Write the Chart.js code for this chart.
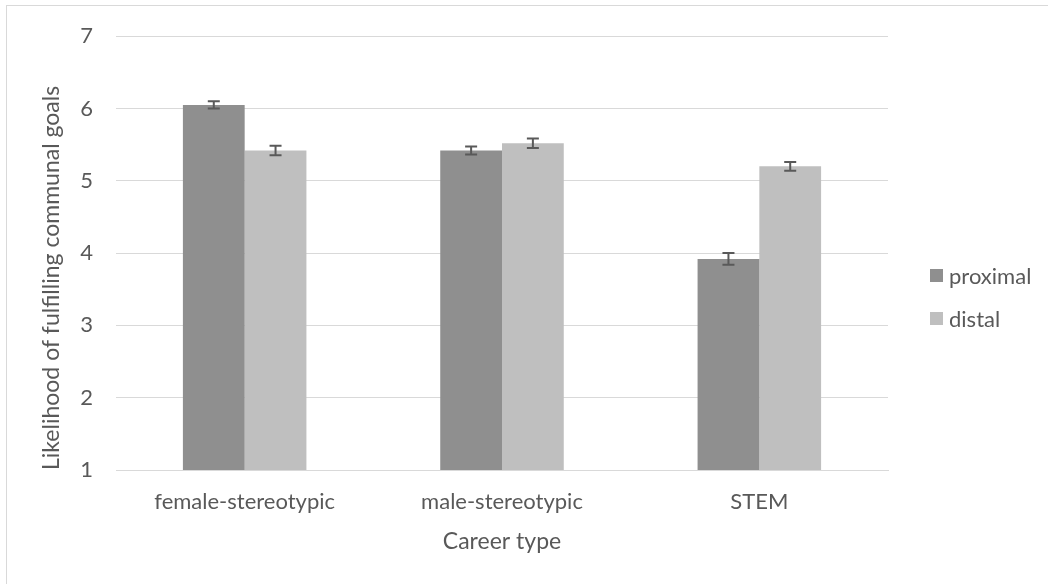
<!DOCTYPE html>
<html>
<head>
<meta charset="utf-8">
<script src="https://cdn.jsdelivr.net/npm/chart.js@4"></script>
<style>
  html, body { margin: 0; padding: 0; background: #ffffff; overflow: hidden; }
  #wrap { position: relative; width: 1048px; height: 584px; }
  #frame { position: absolute; left: 6px; top: 5px; width: 1100px; height: 700px;
           border: 1px solid #d9d9d9; box-sizing: border-box; pointer-events: none; }
  #legend { position: absolute; left: 930px; top: 262px; font-family: Lato, sans-serif;
            font-size: 22px; color: #595959; }
  .item { display: flex; align-items: center; height: 26px; margin-bottom: 17px; white-space: nowrap; }
  .swatch { width: 13px; height: 13px; margin-right: 6px; flex: none; }
</style>
</head>
<body>
<div id="wrap">
  <canvas id="c" width="1048" height="584"></canvas>
  <div id="frame"></div>
  <div id="legend"></div>
</div>
<script>
// Career types and the two goal conditions
const categories = ["female-stereotypic", "male-stereotypic", "STEM"];
const seriesNames = ["proximal", "distal"];
const proximalMeans = [6.05, 5.42, 3.92];
const distalMeans = [5.42, 5.52, 5.20];
const proximalErrors = [0.05, 0.055, 0.08];
const distalErrors = [0.065, 0.065, 0.06];
const yTicks = [1, 2, 3, 4, 5, 6, 7];

const textColor = "#595959";
const gridColor = "#d9d9d9";
const fontFamily = "Lato, sans-serif";

// Draws standard-error whiskers on each bar using the bar scales
const errorBars = {
  id: "errorBars",
  afterDatasetsDraw(chart) {
    const ctx = chart.ctx;
    const y = chart.scales.y;
    ctx.save();
    ctx.strokeStyle = "#595959";
    ctx.lineWidth = 2;
    chart.data.datasets.forEach((ds, di) => {
      const meta = chart.getDatasetMeta(di);
      meta.data.forEach((bar, i) => {
        const v = ds.data[i];
        const e = ds.errors[i];
        const yTop = y.getPixelForValue(v + e);
        const yBot = y.getPixelForValue(v - e);
        const x = bar.x;
        const cap = 6;
        ctx.beginPath();
        ctx.moveTo(x, yTop); ctx.lineTo(x, yBot);
        ctx.moveTo(x - cap, yTop); ctx.lineTo(x + cap, yTop);
        ctx.moveTo(x - cap, yBot); ctx.lineTo(x + cap, yBot);
        ctx.stroke();
      });
    });
    ctx.restore();
  }
};

const chart = new Chart(document.getElementById("c"), {
  type: "bar",
  data: {
    labels: categories,
    datasets: [
      { label: seriesNames[0], data: proximalMeans, errors: proximalErrors, backgroundColor: "#8f8f8f" },
      { label: seriesNames[1], data: distalMeans, errors: distalErrors, backgroundColor: "#bfbfbf" }
    ]
  },
  options: {
    responsive: false,
    animation: false,
    layout: { padding: { left: 0, right: 160, top: 33, bottom: 0 } },
    datasets: { bar: { categoryPercentage: 0.48, barPercentage: 1.0 } },
    plugins: { legend: { display: false }, tooltip: { enabled: false } },
    scales: {
      x: {
        grid: { display: false, drawTicks: false },
        border: { display: true, color: gridColor, width: 1 },
        ticks: { color: textColor, font: { family: fontFamily, size: 22 }, padding: 19 },
        title: { display: true, text: "Career type", color: textColor,
                 font: { family: fontFamily, size: 23 }, padding: { top: 0, bottom: 29 } },
        afterFit(scale) { scale.height = 114; }
      },
      y: {
        min: yTicks[0],
        max: yTicks[yTicks.length - 1],
        afterBuildTicks(scale) { scale.ticks = yTicks.map(v => ({ value: v })); },
        grid: { color: gridColor, lineWidth: 1, drawTicks: false },
        border: { display: false },
        ticks: { color: textColor, font: { family: fontFamily, size: 22 }, padding: 23 },
        title: { display: true, text: "Likelihood of fulfilling communal goals", color: textColor,
                 align: "start",
                 font: { family: fontFamily, size: 23 }, padding: { top: 38, bottom: 0 } },
        afterFit(scale) { scale.width = 116; }
      }
    }
  },
  plugins: [errorBars]
});

// HTML legend built from the chart's datasets
const legendEl = document.getElementById("legend");
chart.data.datasets.forEach(ds => {
  const item = document.createElement("div");
  item.className = "item";
  const sw = document.createElement("span");
  sw.className = "swatch";
  sw.style.background = ds.backgroundColor;
  const txt = document.createElement("span");
  txt.textContent = ds.label;
  item.appendChild(sw);
  item.appendChild(txt);
  legendEl.appendChild(item);
});
</script>
</body>
</html>
